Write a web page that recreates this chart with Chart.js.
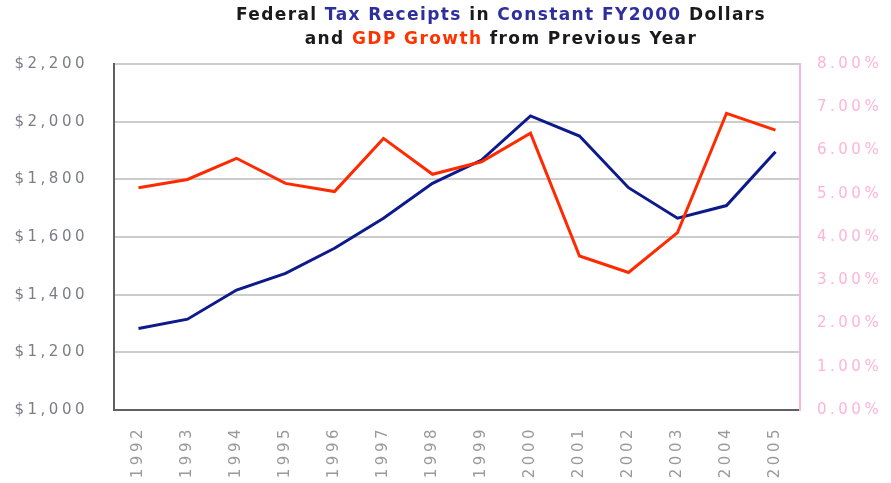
<!DOCTYPE html>
<html>
<head>
<meta charset="utf-8">
<script src="https://cdn.jsdelivr.net/npm/chart.js@4/dist/chart.umd.min.js"></script>
<style>
  body { margin: 0; background: #fff; }
</style>
</head>
<body>
<canvas id="grafico" width="891" height="483"></canvas>
<script>
// anos do eixo x
const anos = ['1992', '1993', '1994', '1995', '1996', '1997', '1998',
  '1999', '2000', '2001', '2002', '2003', '2004', '2005'];

// receitas federais em bilhoes (dolares constantes FY2000)
const receitas = [1283, 1315, 1416, 1474, 1561, 1665, 1786,
  1867, 2020, 1950, 1771, 1665, 1709, 1896];

// crescimento do PIB em relacao ao ano anterior (%)
const crescimentoPib = [5.14, 5.33, 5.82, 5.24, 5.05, 6.28, 5.45,
  5.74, 6.40, 3.56, 3.18, 4.10, 6.86, 6.47];

// limites dos eixos
const eixoEsquerdo = { min: 1000, max: 2200, passo: 200 };
const eixoDireito = { min: 0, max: 8, passo: 1 };

// titulo em duas linhas, cada pedaco com sua cor
const tituloLinhas = [
  [['Federal ', '#1a1a1a'], ['Tax Receipts', '#2e2e9e'], [' in ', '#1a1a1a'],
   ['Constant FY2000', '#2e2e9e'], [' Dollars', '#1a1a1a']],
  [['and ', '#1a1a1a'], ['GDP Growth', '#ff3300'], [' from Previous Year', '#1a1a1a']]
];

const ESPACO = '3.5px';

// espacamento entre letras como no original
const espacamento = {
  id: 'espacamento',
  beforeInit(chart) { chart.ctx.letterSpacing = ESPACO; },
  beforeDraw(chart) { chart.ctx.letterSpacing = ESPACO; }
};

// desenha o titulo colorido
const tituloColorido = {
  id: 'tituloColorido',
  afterDraw(chart) {
    const ctx = chart.ctx;
    ctx.save();
    ctx.letterSpacing = '1.4px';
    ctx.font = 'bold 17px "DejaVu Sans"';
    ctx.textBaseline = 'alphabetic';
    ctx.textAlign = 'left';
    const bases = [20, 44];
    tituloLinhas.forEach((linha, i) => {
      let total = 0;
      linha.forEach(p => { total += ctx.measureText(p[0]).width; });
      let x = 501 - total / 2;
      linha.forEach(p => {
        ctx.fillStyle = p[1];
        ctx.fillText(p[0], x, bases[i]);
        x += ctx.measureText(p[0]).width;
      });
    });
    ctx.restore();
    ctx.letterSpacing = ESPACO;
  }
};

const fonteEixo = { family: 'DejaVu Sans', size: 15 };

new Chart(document.getElementById('grafico'), {
  type: 'line',
  data: {
    labels: anos,
    datasets: [
      {
        label: 'GDP Growth',
        data: crescimentoPib,
        yAxisID: 'y1',
        borderColor: '#ff2a00',
        borderWidth: 3,
        pointRadius: 0,
        tension: 0,
        order: 1
      },
      {
        label: 'Tax Receipts',
        data: receitas,
        yAxisID: 'y',
        borderColor: '#0c1a8c',
        borderWidth: 3,
        pointRadius: 0,
        tension: 0,
        order: 2
      }
    ]
  },
  options: {
    responsive: false,
    animation: false,
    layout: { padding: { top: 64, left: 0, right: 0, bottom: 0 } },
    plugins: {
      legend: { display: false },
      tooltip: { enabled: false },
      title: { display: false }
    },
    scales: {
      x: {
        offset: true,
        grid: { display: false, drawTicks: false },
        border: { display: true, color: '#606060', width: 2 },
        ticks: {
          font: fonteEixo,
          color: '#9a9a9a',
          minRotation: 90,
          maxRotation: 90,
          padding: 16,
          autoSkip: false
        },
        afterFit(scale) { scale.height = 73; }
      },
      y: {
        position: 'left',
        min: eixoEsquerdo.min,
        max: eixoEsquerdo.max,
        grid: { color: '#cccccc', lineWidth: 2, drawTicks: false },
        border: { display: true, color: '#606060', width: 2 },
        ticks: {
          stepSize: eixoEsquerdo.passo,
          font: fonteEixo,
          color: '#7c7c88',
          padding: 26,
          callback: v => '$' + v.toLocaleString('en-US')
        },
        afterFit(scale) { scale.width = 114; }
      },
      y1: {
        position: 'right',
        min: eixoDireito.min,
        max: eixoDireito.max,
        grid: { display: false, drawTicks: false },
        border: { display: true, color: '#ffb3d9', width: 2 },
        ticks: {
          stepSize: eixoDireito.passo,
          font: fonteEixo,
          color: '#ffb3d9',
          padding: 17,
          callback: v => v.toFixed(2) + '%'
        },
        afterFit(scale) { scale.width = 91; }
      }
    }
  },
  plugins: [espacamento, tituloColorido]
});
</script>
</body>
</html>
